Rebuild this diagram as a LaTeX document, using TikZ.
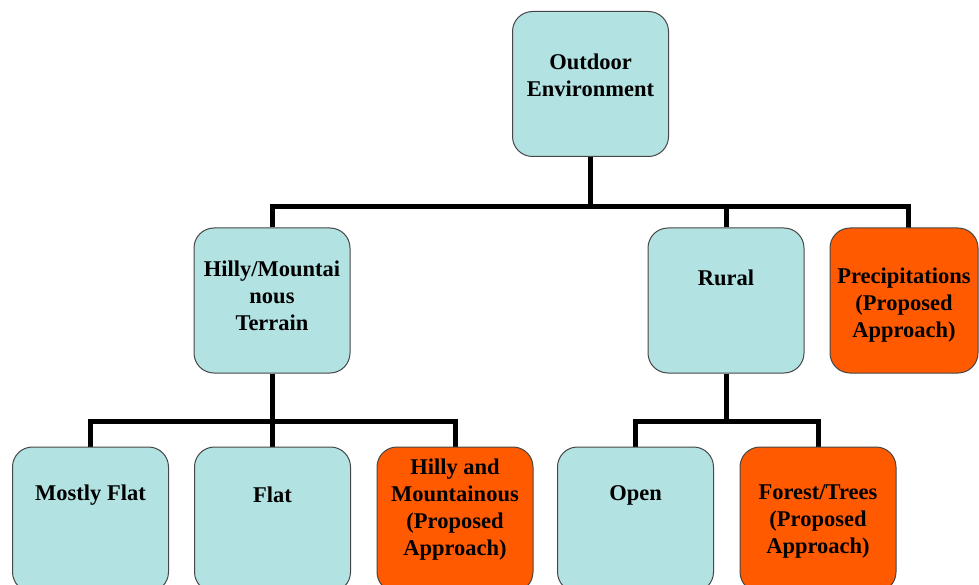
\documentclass[tikz,border=0pt]{standalone}
\usepackage{fontspec}
\setmainfont{Liberation Serif}
\usetikzlibrary{backgrounds}
\definecolor{lightcyanfill}{RGB}{178,226,226}
\definecolor{orangefill}{RGB}{255,90,0}
\definecolor{boxborder}{RGB}{70,70,70}
\begin{document}
\begin{tikzpicture}[x=1pt,y=-1pt,
  box/.style={draw=boxborder, line width=1pt, rounded corners=20pt,
    minimum width=156pt, minimum height=145pt, inner sep=0pt},
  cbox/.style={box, fill=lightcyanfill},
  obox/.style={box, fill=orangefill},
  txt/.style={font=\bfseries\fontsize{22.5}{27}\selectfont, align=center, inner sep=0pt, text=black},
  conn/.style={line width=5pt, line join=miter}]
\useasboundingbox (0,0) rectangle (979,585);
% boxes
\node[cbox] (root) at (590.5,84) {};
\node[cbox] (hilly) at (272,300.5) {};
\node[cbox] (rural) at (726,300.5) {};
\node[obox, minimum width=148pt] (precip) at (904,300.5) {};
\node[cbox] (mostly) at (90.5,519.5) {};
\node[cbox] (flat) at (272.5,519.5) {};
\node[obox] (hm) at (455,519.5) {};
\node[cbox] (open) at (635.5,519.5) {};
\node[obox] (forest) at (818,519.5) {};
% texts
\node[txt] (roottxt) at (590.5,75) {Outdoor\\Environment};
\node[txt] (hillytxt) at (272,296) {Hilly/Mountai\\nous\\Terrain};
\node[txt] (ruraltxt) at (726,278) {Rural};
\node[txt] (preciptxt) at (904,305) {Precipitations\\(Proposed\\Approach)};
\node[txt] (mostlytxt) at (90.5,495) {Mostly Flat};
\node[txt] (flattxt) at (272.5,495) {Flat};
\node[txt] (hmtxt) at (455,510) {Hilly and\\Mountainous\\(Proposed\\Approach)};
\node[txt] (opentxt) at (635.5,495) {Open};
\node[txt] (foresttxt) at (818,521) {Forest/Trees\\(Proposed\\Approach)};
% connectors
\coordinate (bar1) at (590.5,207);
\coordinate (bar2) at (272,421);
\coordinate (precipin) at (908,228);
\begin{scope}[on background layer]
\draw[conn] (root.south) -- (bar1);
\draw[conn] (hilly.north) -- (hilly.north |- bar1) -- (precipin |- bar1) -- (precipin);
\draw[conn] (rural.north) -- (rural.north |- bar1);
\draw[conn] (hilly.south) -- (bar2);
\draw[conn] (mostly.north) -- (mostly.north |- bar2) -- (hm.north |- bar2) -- (hm.north);
\draw[conn] (flat.north) -- (flat.north |- bar2);
\draw[conn] (rural.south) -- (rural.south |- bar2);
\draw[conn] (open.north) -- (open.north |- bar2) -- (forest.north |- bar2) -- (forest.north);
\end{scope}
\end{tikzpicture}
\end{document}
